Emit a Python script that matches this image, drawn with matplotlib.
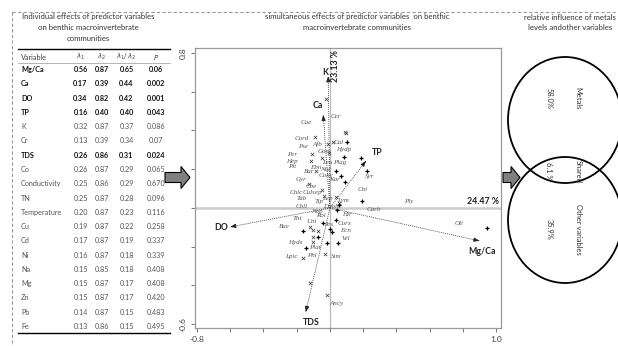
import numpy as np
import matplotlib.pyplot as plt
from matplotlib.patches import Ellipse, FancyArrow

plt.rcParams['font.family'] = ['Lato', 'DejaVu Sans']

W, H = 618, 346  # figure size in pixels

# ---- table: individual effects ----
variables = ['Mg/Ca', 'Ca', 'DO', 'TP', 'K', 'Cr', 'TDS', 'Co', 'Conductivity', 'TN',
             'Temperature', 'Cu', 'Cd', 'Ni', 'Na', 'Mg', 'Zn', 'Pb', 'Fe']
lam1 = [0.56, 0.17, 0.34, 0.16, 0.32, 0.13, 0.26, 0.26, 0.25, 0.25,
        0.20, 0.19, 0.17, 0.16, 0.15, 0.15, 0.15, 0.14, 0.13]
lam2 = [0.87, 0.39, 0.82, 0.40, 0.87, 0.39, 0.86, 0.87, 0.86, 0.87,
        0.87, 0.87, 0.87, 0.87, 0.85, 0.87, 0.87, 0.87, 0.86]
ratio = [0.65, 0.44, 0.42, 0.40, 0.37, 0.34, 0.31, 0.29, 0.29, 0.28,
         0.23, 0.22, 0.19, 0.18, 0.18, 0.17, 0.17, 0.15, 0.15]
pvals = ['0.06', '0.002', '0.001', '0.043', '0.086', '0.07', '0.024', '0.065', '0.670', '0.096',
         '0.116', '0.258', '0.337', '0.339', '0.408', '0.408', '0.420', '0.483', '0.495']
significant = ['Mg/Ca', 'Ca', 'DO', 'TP', 'TDS']

# ---- ordination: environmental arrows ----
env_names = ['K', 'Ca', 'TP', 'DO', 'Mg/Ca', 'TDS']
env_x = [-0.01, -0.04, 0.217, -0.60, 0.90, -0.145]
env_y = [0.68, 0.48, 0.243, -0.098, -0.17, -0.537]
env_lab_x = [-0.03, -0.075, 0.285, -0.655, 0.915, -0.11]
env_lab_y = [0.70, 0.53, 0.285, -0.10, -0.225, -0.59]

# ---- ordination: taxa labels ----
taxa = ['Cer', 'Cae', 'Cord', 'Afb', 'Cal', 'Pse', 'Gom', 'Hydp', 'Per', 'Hep', 'Pit',
        'Ebn', 'Leu', 'Plag', 'Nuc', 'Bar', 'Cony', 'Kar', 'Gyr', 'Cbe', 'Syr', 'Chi',
        'Chlc', 'Culsep', 'Tab', 'Tip', 'Lep', 'Lym', 'Chll', 'Duoli', 'Carb', 'Ply',
        'Oli', 'Nop', 'Thi', 'Uni', 'Roi', 'Hir', 'Corx', 'Bae', 'Jes', 'Ecn', 'Vel',
        'Hyds', 'Plat', 'Lpic', 'Phi', 'Sim', 'Ancy']
taxa_x = [0.036, -0.145, -0.169, -0.078, 0.054, -0.163, -0.036, 0.084, -0.229, -0.229, -0.229,
          -0.084, -0.018, 0.06, -0.024, -0.127, -0.024, 0.03, -0.175, -0.114, 0.241, 0.199,
          -0.205, -0.108, -0.169, -0.066, -0.018, 0.078, -0.169, 0.006, 0.265, 0.476,
          0.777, -0.078, -0.199, -0.108, -0.054, 0.102, 0.090, -0.271, -0.006, 0.096, 0.096,
          -0.211, -0.090, -0.235, -0.108, 0.036, 0.042]
taxa_y = [0.47, 0.44, 0.357, 0.331, 0.336, 0.315, 0.289, 0.30, 0.274, 0.238, 0.212,
          0.207, 0.233, 0.233, 0.196, 0.186, 0.165, 0.145, 0.145, 0.109, 0.160, 0.093,
          0.078, 0.078, 0.047, 0.031, 0.047, 0.041, 0.005, 0.005, -0.010, 0.031,
          -0.078, -0.016, -0.057, -0.072, -0.041, -0.036, -0.078, -0.098, -0.083, -0.119, -0.160,
          -0.181, -0.202, -0.253, -0.248, -0.253, -0.491]

# sites / points drawn as crosses
cross_x = [-0.024, 0.096, -0.090, 0.090, -0.012, 0.018, -0.108, -0.006, -0.114, -0.048,
           -0.084, -0.127, -0.048, -0.036, 0.036, 0.054, -0.120, -0.102, -0.072, -0.102,
           -0.102, -0.163, -0.030, -0.120, -0.018]
cross_y = [0.563, 0.388, 0.367, 0.393, 0.331, 0.341, 0.279, 0.284, 0.243, 0.258,
           0.191, 0.124, 0.093, 0.062, 0.057, 0.026, -0.098, -0.114, -0.119, -0.150,
           -0.176, -0.258, -0.238, -0.388, -0.450]
# points drawn as plus
plus_x = [0.102, 0.084, 0.187, 0.223, 0.036, 0.066, 0.090, 0.193, 0.054, 0.042,
          0.036, -0.163, -0.042, 0.0, 0.012, -0.072, 0.048, -0.018, -0.145, 0.946]
plus_y = [0.341, 0.264, 0.258, 0.191, 0.191, 0.165, 0.134, 0.036, 0.016, -0.010,
          -0.062, -0.119, -0.078, -0.109, -0.124, -0.150, -0.181, -0.181, -0.207, -0.103]

axis1_label = '24.47 %'
axis2_label = '23.13 %'

# ---- venn partition ----
venn_names = ['Metals', 'Shared', 'Other variables']
venn_values = ['58.0%', '6.1 %', '35.9%']

fig = plt.figure(figsize=(6.18, 3.46), dpi=100)

# background axes in pixel units for table, titles, frames
bg = fig.add_axes([0, 0, 1, 1])
bg.set_xlim(0, W)
bg.set_ylim(H, 0)
bg.axis('off')

# dashed outer frame
bg.plot([12, W], [12, 12], color='#999999', lw=0.8, ls=(0, (3, 2)))
bg.plot([12, 12], [12, H], color='#999999', lw=0.8, ls=(0, (3, 2)))

# table
tcol = '#333333'
for i, line in enumerate(['Individual effects of predictor variables',
                          'on benthic macroinvertebrate', 'communities']):
    bg.text(88, 17 + 10.8 * i, line, ha='center', va='center', fontsize=5.6, color=tcol)

bg.plot([18, 170], [48.5, 48.5], color='black', lw=1.0)
bg.plot([18, 170], [63, 63], color='#999999', lw=0.5)
bg.plot([18, 170], [333, 333], color='black', lw=1.0)

cols = [80.5, 102, 126.5, 156]
hdr_y = 57
bg.text(21, hdr_y, 'Variable', ha='left', va='center', fontsize=5.2, color='#444444')
bg.text(cols[0], hdr_y, r'$\lambda_1$', ha='center', va='center', fontsize=5, color='#444444')
bg.text(cols[1], hdr_y, r'$\lambda_2$', ha='center', va='center', fontsize=5, color='#444444')
bg.text(cols[2], hdr_y, r'$\lambda_1/\,\lambda_2$', ha='center', va='center', fontsize=5, color='#444444')
bg.text(cols[3], hdr_y, r'$P$', ha='center', va='center', fontsize=5, color='#444444')

for i, v in enumerate(variables):
    y = 69.5 + 14.28 * i
    bold = v in significant
    kw = dict(va='center', fontsize=5.2,
              fontweight='bold' if bold else 'normal',
              color='#111111' if bold else '#555555')
    bg.text(21, y, v, ha='left', **kw)
    bg.text(cols[0], y, f'{lam1[i]:.2f}', ha='center', **kw)
    bg.text(cols[1], y, f'{lam2[i]:.2f}', ha='center', **kw)
    bg.text(cols[2], y, f'{ratio[i]:.2f}', ha='center', **kw)
    bg.text(cols[3], y, pvals[i], ha='center', **kw)

# middle and right titles
bg.text(357, 17, 'simultaneous effects of predictor variables  on benthic',
        ha='center', va='center', fontsize=5.6, color=tcol)
bg.text(357, 28, 'macroinvertebrate communities', ha='center', va='center', fontsize=5.6, color=tcol)
bg.text(524, 17, 'relative influence of metals', ha='left', va='center', fontsize=5.6, color=tcol)
bg.text(528, 28, 'levels andother variables', ha='left', va='center', fontsize=5.6, color=tcol)

# grey block arrows between panels
for x0, length in [(165, 25), (503, 17)]:
    bg.add_patch(FancyArrow(x0, 177.5, length, 0, width=10, head_width=22,
                            head_length=9, length_includes_head=True,
                            facecolor='#808080', edgecolor='black', lw=0.8))

# venn ellipses
for cy in [120, 220]:
    bg.add_patch(Ellipse((565, cy), 114, 126, fill=False, edgecolor='black', lw=1.3))
venn_y = [98, 171, 229]
for name, val, vy in zip(venn_names, venn_values, venn_y):
    bg.text(578, vy, name, rotation=-90, ha='center', va='center', fontsize=5.4, color='#333333')
    bg.text(549, vy, val, rotation=-90, ha='center', va='center', fontsize=5.4, color='#333333')

# ---- ordination plot ----
ax = fig.add_axes([195 / W, 1 - 328 / H, 306 / W, 280 / H])
ax.set_xlim(-0.812, 1.03)
ax.set_ylim(-0.62, 0.826)
for s in ax.spines.values():
    s.set_color('#999999')
    s.set_linewidth(0.9)

ax.axhline(0, color='#cccccc', lw=1.8, zorder=0)
ax.axvline(0, color='#bbbbbb', lw=0.9, zorder=0)

ax.set_xticks(np.arange(-0.8, 1.01, 0.2))
ax.set_yticks(np.arange(-0.6, 0.81, 0.2))
ax.set_xticklabels(['-0.8'] + [''] * 8 + ['1.0'])
ax.set_yticklabels(['-0.6'] + [''] * 6 + ['0.8'], rotation=90, va='center')
ax.tick_params(direction='out', length=3, width=0.7, color='#777777',
               labelsize=6, labelcolor='#444444', pad=3)

# environmental arrows
for x, y in zip(env_x, env_y):
    ax.plot([0, x], [0, y], color='#444444', lw=0.6, ls=(0, (1.2, 1.2)), zorder=2)
    ax.annotate('', xy=(x, y), xytext=(x * 0.97, y * 0.97),
                arrowprops=dict(arrowstyle='-|>,head_length=0.32,head_width=0.12',
                                color='#222222', lw=0.6, shrinkA=0, shrinkB=0))
for name, lx, ly in zip(env_names, env_lab_x, env_lab_y):
    ax.text(lx, ly, name, ha='center', va='center', fontsize=6.3,
            fontweight='bold', color='#222222')

# taxa
ax.scatter(cross_x, cross_y, marker='x', s=6, lw=0.5, color='#333333', zorder=3)
ax.scatter(plus_x, plus_y, marker='+', s=8, lw=0.9, color='black', zorder=3)
for name, tx, ty in zip(taxa, taxa_x, taxa_y):
    ax.text(tx, ty, name, ha='center', va='center', fontsize=5, style='italic',
            family='Liberation Serif', color='#555555', zorder=4)

ax.text(1.02, 0.008, axis1_label, ha='right', va='bottom', fontsize=6.3,
        fontweight='bold', color='#222222')
ax.text(0.035, 0.815, axis2_label, rotation=90, ha='center', va='top', fontsize=6.3,
        fontweight='bold', color='#222222')

fig.savefig('out.png', dpi=100)
